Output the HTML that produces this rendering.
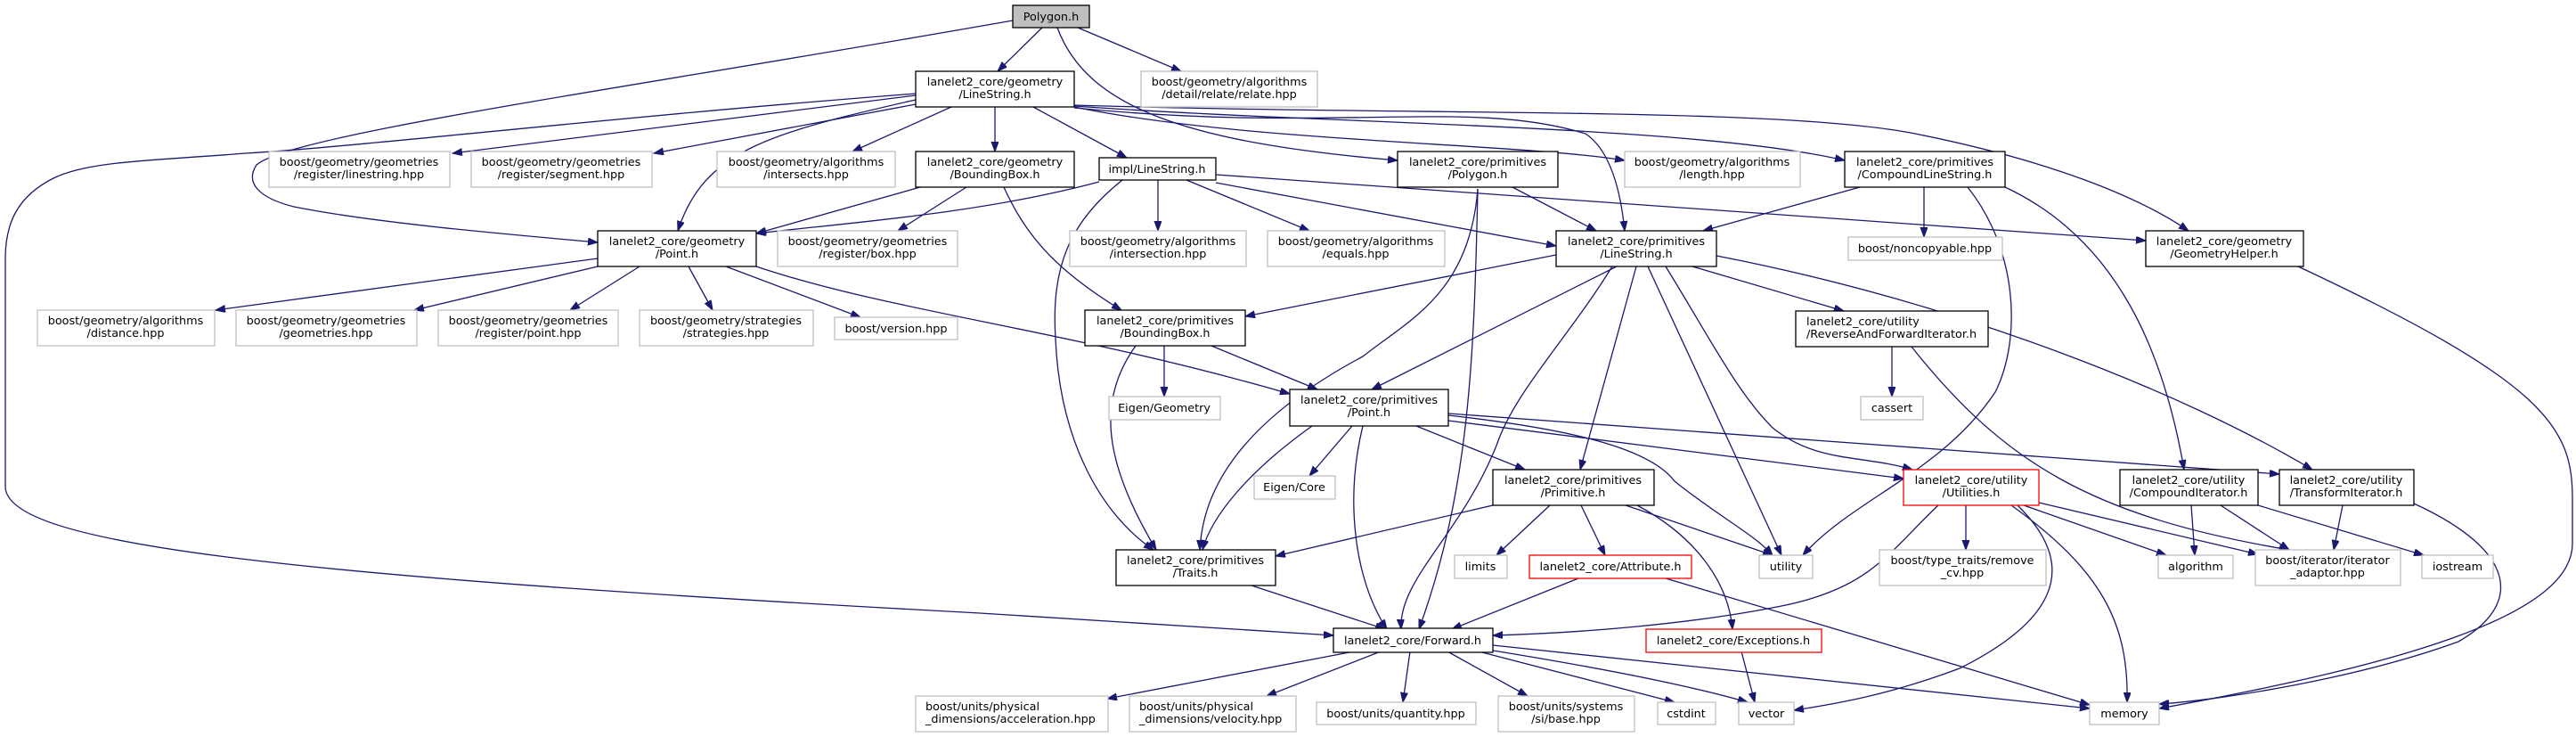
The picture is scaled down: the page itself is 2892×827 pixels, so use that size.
<!DOCTYPE html>
<html><head><meta charset="utf-8"><style>
html,body{margin:0;padding:0;background:#fff}
svg{display:block}
text{font-family:"DejaVu Sans","Liberation Sans",sans-serif;font-size:12.8px;fill:#000}
.n{fill:#fff;stroke:#000;stroke-width:1.3}
.g{fill:#fff;stroke:#bfbfbf;stroke-width:1.3}
.r{fill:#fff;stroke:#ff0000;stroke-width:1.3}
.e{fill:none;stroke:#191970;stroke-width:1.3;marker-end:url(#a)}
</style></head><body>
<svg width="2892" height="827" viewBox="0 0 2892 827" xmlns="http://www.w3.org/2000/svg">
<defs><marker id="a" markerUnits="userSpaceOnUse" markerWidth="12" markerHeight="10" refX="11" refY="4" orient="auto"><path d="M0,0 L11,4 L0,8 z" fill="#191970" stroke="#191970"/></marker></defs>

<g>
<path class="e" d="M1170,31 L1120,80"/>
<path class="e" d="M1210,31 L1326,80"/>
<path class="e" d="M1137,23 C 700,100 330,150 288,185 C 275,205 290,222 330,232 C 420,250 560,262 671,272"/>
<path class="e" d="M1187,31 C 1220,120 1330,160 1569,180"/>
<path class="e" d="M1028,107 L508,172"/>
<path class="e" d="M1028,117 L734,172"/>
<path class="e" d="M1068,120 L957,170"/>
<path class="e" d="M1028,112 C 860,150 790,170 761,259"/>
<path class="e" d="M1028,105 C 700,130 400,165 275,172 C 180,180 100,180 60,200 C 20,220 6,250 6,290 L6,547 C 10,610 300,645 1100,688 L1497,713"/>
<path class="e" d="M1117,120 L1117,170"/>
<path class="e" d="M1160,120 L1265,177"/>
<path class="e" d="M1206,120 C 1400,160 1700,160 1824,180"/>
<path class="e" d="M1206,119 C 1500,140 1900,140 2071,180"/>
<path class="e" d="M1206,121 C 1500,150 1650,110 1780,150 C 1810,170 1820,220 1824,259"/>
<path class="e" d="M1206,118 C 1600,130 2000,120 2150,150 C 2300,180 2400,220 2457,259"/>
<path class="e" d="M1234,204 C 1100,240 950,250 849,262"/>
<path class="e" d="M1300,202 L1300,259"/>
<path class="e" d="M1332,202 L1470,259"/>
<path class="e" d="M1365,205 L1747,276"/>
<path class="e" d="M1365,196 L2409,270"/>
<path class="e" d="M1260,202 C 1200,250 1180,300 1185,380 C 1190,500 1240,580 1295,617"/>
<path class="e" d="M1033,210 L849,262"/>
<path class="e" d="M1085,210 L1008,259"/>
<path class="e" d="M1127,210 C 1150,260 1180,300 1259,348"/>
<path class="e" d="M1698,210 L1792,259"/>
<path class="e" d="M1659,212 C 1650,330 1580,360 1530,400 C 1380,480 1350,560 1347,617"/>
<path class="e" d="M1659,212 C 1655,400 1650,550 1593,706"/>
<path class="e" d="M2088,210 L1912,259"/>
<path class="e" d="M2160,210 L2160,266"/>
<path class="e" d="M2209,210 C 2265,280 2270,380 2240,440 C 2180,530 2080,560 2024,623"/>
<path class="e" d="M2251,210 C 2380,270 2430,400 2452,527"/>
<path class="e" d="M2580,299 C 2860,430 2888,480 2888,560 L2888,610 C 2888,690 2700,745 2424,795"/>
<path class="e" d="M1747,286 L1398,355"/>
<path class="e" d="M1815,299 L1540,437"/>
<path class="e" d="M1837,299 L1774,527"/>
<path class="e" d="M1810,299 C 1760,380 1700,440 1680,500 C 1640,600 1570,650 1573,706"/>
<path class="e" d="M1850,299 L2000,623"/>
<path class="e" d="M1900,299 L2070,349"/>
<path class="e" d="M1870,299 C 1920,380 1950,440 1990,480 C 2040,520 2090,510 2147,527"/>
<path class="e" d="M1927,287 C 2200,340 2450,440 2596,527"/>
<path class="e" d="M2124,389 L2124,445"/>
<path class="e" d="M2146,389 C 2250,520 2350,580 2570,617"/>
<path class="e" d="M1307,388 L1307,445"/>
<path class="e" d="M1360,388 L1479,437"/>
<path class="e" d="M1275,388 C 1230,450 1240,520 1298,617"/>
<path class="e" d="M671,290 L242,348"/>
<path class="e" d="M671,299 L465,348"/>
<path class="e" d="M718,299 L640,348"/>
<path class="e" d="M773,299 L800,348"/>
<path class="e" d="M815,299 L966,356"/>
<path class="e" d="M849,299 C 1000,350 1200,370 1448,442"/>
<path class="e" d="M1518,478 L1470,534"/>
<path class="e" d="M1473,478 C 1400,530 1360,580 1350,617"/>
<path class="e" d="M1530,478 C 1510,560 1520,650 1557,706"/>
<path class="e" d="M1590,478 L1712,527"/>
<path class="e" d="M1626,466 C 1750,480 1850,500 1880,540 C 1930,580 1970,600 1990,623"/>
<path class="e" d="M1626,472 L2137,537"/>
<path class="e" d="M1626,464 L2559,532"/>
<path class="e" d="M1676,567 L1432,624"/>
<path class="e" d="M1740,567 L1680,623"/>
<path class="e" d="M1775,567 L1802,623"/>
<path class="e" d="M1825,567 L1990,623"/>
<path class="e" d="M1838,567 C 1900,600 1940,650 1945,706"/>
<path class="e" d="M1405,657 L1555,706"/>
<path class="e" d="M1772,649 L1630,706"/>
<path class="e" d="M1870,649 L2346,791"/>
<path class="e" d="M1955,731 L1970,788"/>
<path class="e" d="M2176,567 C 2120,620 2100,660 2000,680 C 1900,700 1780,710 1676,713"/>
<path class="e" d="M2207,567 L2207,617"/>
<path class="e" d="M2265,567 C 2340,640 2300,700 2200,750 C 2120,780 2060,790 2014,797"/>
<path class="e" d="M2258,567 C 2360,640 2390,700 2388,788"/>
<path class="e" d="M2272,567 L2432,623"/>
<path class="e" d="M2289,564 L2535,622"/>
<path class="e" d="M2460,567 L2464,623"/>
<path class="e" d="M2493,567 L2570,617"/>
<path class="e" d="M2535,567 L2721,623"/>
<path class="e" d="M2630,567 L2620,617"/>
<path class="e" d="M2710,565 C 2830,620 2830,680 2760,720 C 2650,760 2500,785 2424,790"/>
<path class="e" d="M1520,731 L1243,784"/>
<path class="e" d="M1550,731 L1422,781"/>
<path class="e" d="M1583,731 L1575,788"/>
<path class="e" d="M1625,731 L1715,781"/>
<path class="e" d="M1660,731 L1880,788"/>
<path class="e" d="M1670,729 C 1800,750 1900,770 1962,788"/>
<path class="e" d="M1676,724 L2346,795"/>
</g>

<g text-anchor="middle">
<rect x="1137" y="6" width="86" height="25" style="fill:#bfbfbf;stroke:#000;stroke-width:1.3"/><text x="1180" y="23">Polygon.h</text>
<rect class="n" x="1028" y="80" width="178" height="40"/><text x="1117" y="96">lanelet2_core/geometry</text><text x="1117" y="110">/LineString.h</text>
<rect class="g" x="1281" y="80" width="198" height="40"/><text x="1380" y="96">boost/geometry/algorithms</text><text x="1380" y="110">/detail/relate/relate.hpp</text>
<rect class="g" x="302" y="170" width="203" height="40"/><text x="403" y="186">boost/geometry/geometries</text><text x="403" y="200">/register/linestring.hpp</text>
<rect class="g" x="529" y="170" width="203" height="40"/><text x="630" y="186">boost/geometry/geometries</text><text x="630" y="200">/register/segment.hpp</text>
<rect class="g" x="805" y="170" width="200" height="40"/><text x="905" y="186">boost/geometry/algorithms</text><text x="905" y="200">/intersects.hpp</text>
<rect class="n" x="1028" y="170" width="178" height="40"/><text x="1117" y="186">lanelet2_core/geometry</text><text x="1117" y="200">/BoundingBox.h</text>
<rect class="n" x="1234" y="177" width="131" height="25"/><text x="1299" y="194">impl/LineString.h</text>
<rect class="n" x="1569" y="170" width="180" height="40"/><text x="1659" y="186">lanelet2_core/primitives</text><text x="1659" y="200">/Polygon.h</text>
<rect class="g" x="1824" y="170" width="197" height="40"/><text x="1922" y="186">boost/geometry/algorithms</text><text x="1922" y="200">/length.hpp</text>
<rect class="n" x="2071" y="170" width="180" height="40"/><text x="2161" y="186">lanelet2_core/primitives</text><text x="2161" y="200">/CompoundLineString.h</text>
<rect class="n" x="671" y="259" width="178" height="40"/><text x="760" y="275">lanelet2_core/geometry</text><text x="760" y="289">/Point.h</text>
<rect class="g" x="873" y="259" width="202" height="40"/><text x="974" y="275">boost/geometry/geometries</text><text x="974" y="289">/register/box.hpp</text>
<rect class="g" x="1201" y="259" width="198" height="40"/><text x="1300" y="275">boost/geometry/algorithms</text><text x="1300" y="289">/intersection.hpp</text>
<rect class="g" x="1423" y="259" width="199" height="40"/><text x="1522" y="275">boost/geometry/algorithms</text><text x="1522" y="289">/equals.hpp</text>
<rect class="n" x="1747" y="259" width="180" height="40"/><text x="1837" y="275">lanelet2_core/primitives</text><text x="1837" y="289">/LineString.h</text>
<rect class="g" x="2075" y="266" width="173" height="26"/><text x="2161" y="283">boost/noncopyable.hpp</text>
<rect class="n" x="2409" y="259" width="177" height="40"/><text x="2497" y="275">lanelet2_core/geometry</text><text x="2497" y="289">/GeometryHelper.h</text>
<rect class="g" x="42" y="348" width="199" height="40"/><text x="141" y="364">boost/geometry/algorithms</text><text x="141" y="378">/distance.hpp</text>
<rect class="g" x="265" y="348" width="203" height="40"/><text x="366" y="364">boost/geometry/geometries</text><text x="366" y="378">/geometries.hpp</text>
<rect class="g" x="492" y="348" width="202" height="40"/><text x="593" y="364">boost/geometry/geometries</text><text x="593" y="378">/register/point.hpp</text>
<rect class="g" x="718" y="348" width="195" height="40"/><text x="815" y="364">boost/geometry/strategies</text><text x="815" y="378">/strategies.hpp</text>
<rect class="g" x="937" y="356" width="138" height="25"/><text x="1006" y="373">boost/version.hpp</text>
<rect class="n" x="1218" y="348" width="180" height="40"/><text x="1308" y="364">lanelet2_core/primitives</text><text x="1308" y="378">/BoundingBox.h</text>
<rect class="n" x="2016" y="349" width="216" height="40"/><text x="2028" y="365" text-anchor="start">lanelet2_core/utility</text><text x="2028" y="379" text-anchor="start">/ReverseAndForwardIterator.h</text>
<rect class="n" x="1448" y="437" width="178" height="41"/><text x="1537" y="453">lanelet2_core/primitives</text><text x="1537" y="467">/Point.h</text>
<rect class="g" x="1245" y="445" width="125" height="26"/><text x="1307" y="462">Eigen/Geometry</text>
<rect class="g" x="2089" y="445" width="70" height="26"/><text x="2124" y="462">cassert</text>
<rect class="g" x="1408" y="534" width="91" height="26"/><text x="1453" y="551">Eigen/Core</text>
<rect class="n" x="1676" y="527" width="181" height="40"/><text x="1766" y="543">lanelet2_core/primitives</text><text x="1766" y="557">/Primitive.h</text>
<rect class="r" x="2137" y="527" width="152" height="40"/><text x="2213" y="543">lanelet2_core/utility</text><text x="2213" y="557">/Utilities.h</text>
<rect class="n" x="2380" y="527" width="155" height="40"/><text x="2457" y="543">lanelet2_core/utility</text><text x="2457" y="557">/CompoundIterator.h</text>
<rect class="n" x="2559" y="527" width="151" height="40"/><text x="2634" y="543">lanelet2_core/utility</text><text x="2634" y="557">/TransformIterator.h</text>
<rect class="n" x="1253" y="617" width="179" height="40"/><text x="1342" y="633">lanelet2_core/primitives</text><text x="1342" y="647">/Traits.h</text>
<rect class="g" x="1633" y="623" width="59" height="26"/><text x="1662" y="640">limits</text>
<rect class="r" x="1717" y="623" width="182" height="26"/><text x="1808" y="640">lanelet2_core/Attribute.h</text>
<rect class="g" x="1975" y="623" width="60" height="26"/><text x="2005" y="640">utility</text>
<rect class="g" x="2110" y="617" width="187" height="40"/><text x="2203" y="633">boost/type_traits/remove</text><text x="2203" y="647">_cv.hpp</text>
<rect class="g" x="2423" y="623" width="84" height="26"/><text x="2465" y="640">algorithm</text>
<rect class="g" x="2532" y="617" width="163" height="40"/><text x="2613" y="633">boost/iterator/iterator</text><text x="2613" y="647">_adaptor.hpp</text>
<rect class="g" x="2719" y="623" width="80" height="26"/><text x="2759" y="640">iostream</text>
<rect class="n" x="1497" y="705" width="179" height="27"/><text x="1586" y="723">lanelet2_core/Forward.h</text>
<rect class="r" x="1848" y="706" width="197" height="26"/><text x="1946" y="723">lanelet2_core/Exceptions.h</text>
<rect class="g" x="1028" y="781" width="216" height="40"/><text x="1039" y="797" text-anchor="start">boost/units/physical</text><text x="1039" y="811" text-anchor="start">_dimensions/acceleration.hpp</text>
<rect class="g" x="1268" y="781" width="187" height="40"/><text x="1279" y="797" text-anchor="start">boost/units/physical</text><text x="1279" y="811" text-anchor="start">_dimensions/velocity.hpp</text>
<rect class="g" x="1478" y="788" width="179" height="25"/><text x="1567" y="805">boost/units/quantity.hpp</text>
<rect class="g" x="1682" y="781" width="153" height="40"/><text x="1758" y="797">boost/units/systems</text><text x="1758" y="811">/si/base.hpp</text>
<rect class="g" x="1861" y="788" width="65" height="25"/><text x="1893" y="805">cstdint</text>
<rect class="g" x="1952" y="788" width="62" height="25"/><text x="1983" y="805">vector</text>
<rect class="g" x="2346" y="788" width="78" height="25"/><text x="2385" y="805">memory</text>
</g>
</svg>
</body></html>
